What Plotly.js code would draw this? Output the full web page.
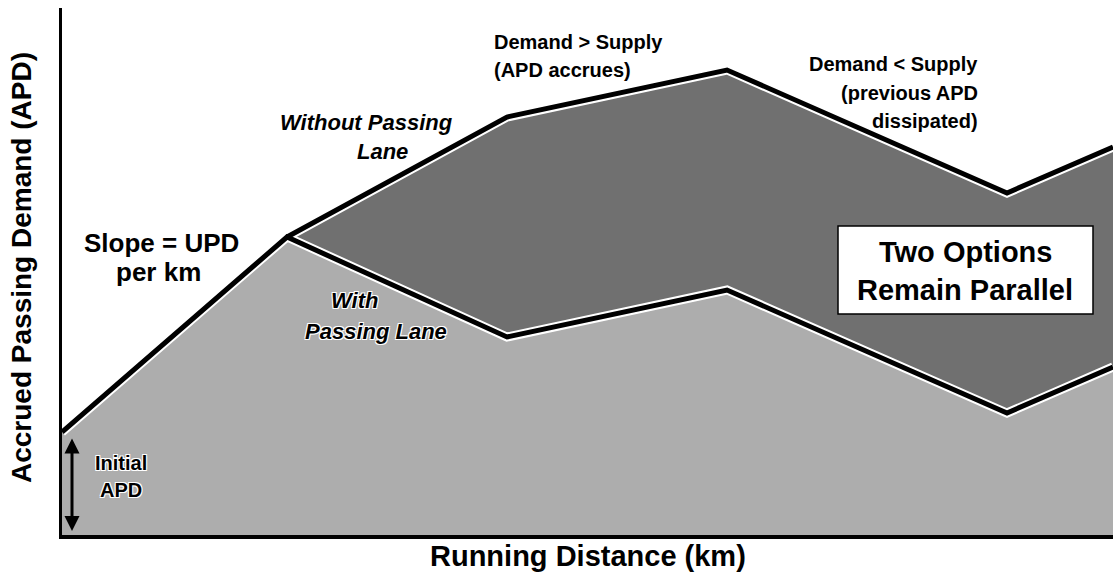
<!DOCTYPE html>
<html>
<head>
<meta charset="utf-8">
<script src="https://cdn.plot.ly/plotly-3.0.1.min.js"></script>
<style>html,body{margin:0;padding:0;background:#fff;} #chart{width:1113px;height:575px;}</style>
</head>
<body>
<div id="chart"></div>
<script>
// Running distance (arbitrary km units)
const distance = [0, 2.25, 4.45, 6.65, 9.45, 10.51];
// Accrued passing demand, with passing lane
const apdWith = [1.03, 2.98, 1.98, 2.45, 1.22, 1.68];
// Accrued passing demand, without passing lane (starts where the lane begins)
const distanceWithout = [2.25, 4.45, 6.65, 9.45, 10.51];
const apdWithout = [2.98, 4.18, 4.65, 3.42, 3.88];
const apdWithSameSpan = apdWith.slice(1);
const initialAPD = apdWith[0];

const FONT = "Liberation Sans, Arial, Helvetica, sans-serif";
const lightFill = "#adadad";
const darkFill = "#707070";

const traces = [
  {x: distance, y: apdWith, type: "scatter", mode: "lines", fill: "tozeroy",
   fillcolor: lightFill, line: {width: 0, color: lightFill}, hoverinfo: "skip", showlegend: false},
  {x: distanceWithout, y: apdWithSameSpan, type: "scatter", mode: "lines",
   line: {width: 0, color: darkFill}, hoverinfo: "skip", showlegend: false},
  {x: distanceWithout, y: apdWithout, type: "scatter", mode: "lines", fill: "tonexty",
   fillcolor: darkFill, line: {width: 0, color: darkFill}, hoverinfo: "skip", showlegend: false},
  // white halos
  {x: distance, y: apdWith, type: "scatter", mode: "lines",
   line: {width: 9, color: "#ffffff"}, hoverinfo: "skip", showlegend: false},
  {x: distanceWithout, y: apdWithout, type: "scatter", mode: "lines",
   line: {width: 9, color: "#ffffff"}, hoverinfo: "skip", showlegend: false},
  // black lines
  {x: distance, y: apdWith, type: "scatter", mode: "lines",
   line: {width: 5, color: "#000000"}, hoverinfo: "skip", showlegend: false},
  {x: distanceWithout, y: apdWithout, type: "scatter", mode: "lines",
   line: {width: 5, color: "#000000"}, hoverinfo: "skip", showlegend: false}
];

const halo = "1px 1px 0 #fff, -1px -1px 0 #fff, 1px -1px 0 #fff, -1px 1px 0 #fff";

// helper: position given in page pixels, converted to paper coords of the plot area
const M = {l: 62, r: 0, t: 8, b: 40};
const PW = 1113 - M.l - M.r, PH = 575 - M.t - M.b;
const PX = (px) => (px - M.l) / PW, PY = (py) => (575 - M.b - py) / PH;
const lab = (px, py, text, size, opts, fontExtra) => Object.assign({
  x: PX(px), y: PY(py), xref: "paper", yref: "paper", text: text, showarrow: false,
  xanchor: "center", yanchor: "middle",
  font: Object.assign({family: FONT, size: size, color: "#000", weight: "bold"}, fontExtra || {})
}, opts || {});

const annotations = [
  lab(492, 42, "Demand > Supply", 20, {xanchor: "left"}),
  lab(492, 70, "(APD accrues)", 20, {xanchor: "left"}),
  lab(980, 64, "Demand < Supply", 20, {xanchor: "right"}),
  lab(980, 93, "(previous APD", 20, {xanchor: "right"}),
  lab(980, 121, "dissipated)", 20, {xanchor: "right"}),
  lab(366, 122, "Without Passing", 22, {}, {style: "italic"}),
  lab(382, 151, "Lane", 22, {}, {style: "italic"}),
  lab(161, 243, "Slope = UPD", 26),
  lab(158, 272, "per km", 26),
  lab(354, 301, "With", 22, {}, {style: "italic", shadow: halo}),
  lab(376, 331, "Passing Lane", 22, {}, {style: "italic", shadow: halo}),
  lab(121, 463, "Initial", 20, {}, {shadow: halo}),
  lab(121, 490, "APD", 20, {}, {shadow: halo}),
  lab(965, 252, "Two Options", 29),
  lab(965, 290, "Remain Parallel", 29),
  lab(21, 268, "Accrued Passing Demand (APD)", 28, {textangle: -90}),
  lab(588, 556, "Running Distance (km)", 29),
  // double-headed arrow for initial APD
  {x: 0.10, y: 0.04, ax: 0.10, ay: initialAPD - 0.05, xref: "x", yref: "y", axref: "x", ayref: "y",
   text: "", showarrow: true, arrowhead: 2, arrowside: "end+start", arrowsize: 1, arrowwidth: 3, arrowcolor: "#000"}
];

const shapes = [
  {type: "rect", xref: "x", yref: "y", x0: 7.76, x1: 10.31, y0: 2.21, y1: 3.09,
   fillcolor: "#ffffff", line: {color: "#000", width: 1.5}, layer: "above"}
];

const layout = {
  width: 1113, height: 575,
  margin: {l: M.l, r: M.r, t: M.t, b: M.b, pad: 0},
  paper_bgcolor: "#ffffff", plot_bgcolor: "#ffffff",
  showlegend: false,
  xaxis: {range: [0, 10.51], showline: true, linewidth: 3.5, linecolor: "#000",
          showgrid: false, zeroline: false, showticklabels: false, ticks: ""},
  yaxis: {range: [0, 5.27], showline: true, linewidth: 3.5, linecolor: "#000",
          showgrid: false, zeroline: false, showticklabels: false, ticks: ""},
  annotations: annotations,
  shapes: shapes
};

Plotly.newPlot("chart", traces, layout, {staticPlot: true, displayModeBar: false});
</script>
</body>
</html>
